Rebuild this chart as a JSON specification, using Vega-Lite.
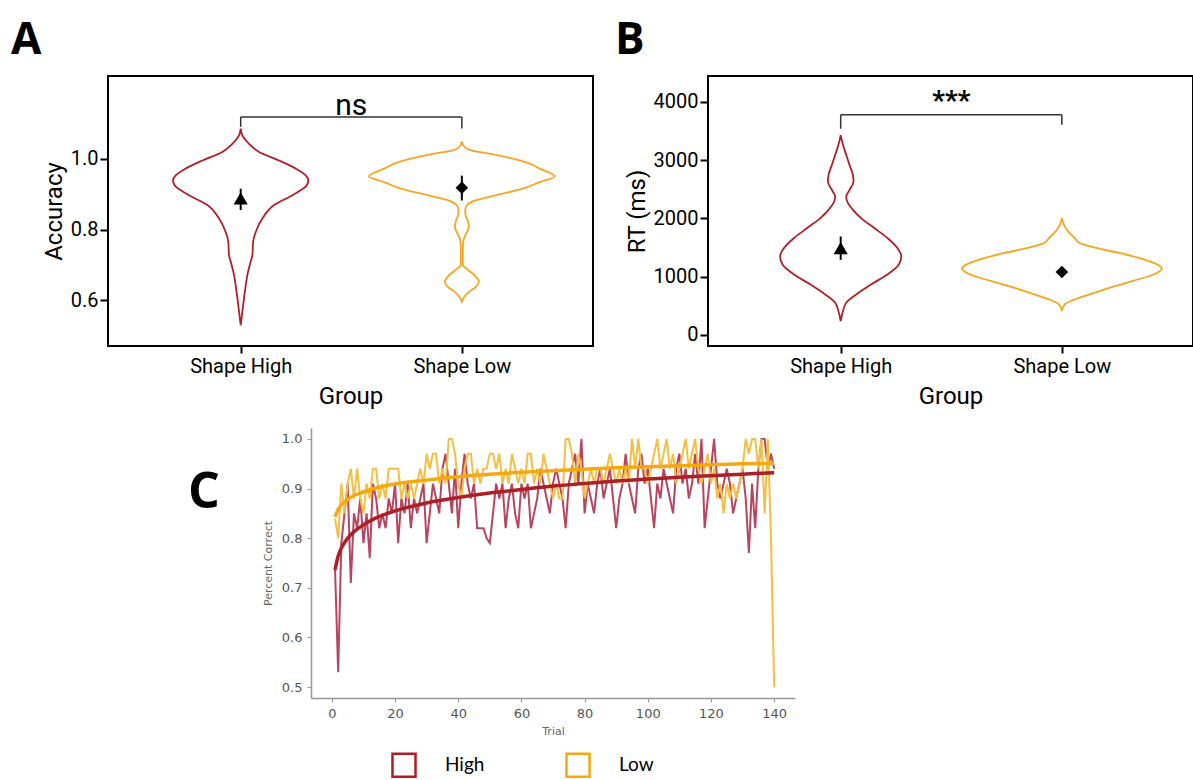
{
  "$schema": "https://vega.github.io/schema/vega-lite/v6.json",
  "padding": {"left": 10, "top": 18, "right": 0, "bottom": 0},
  "config": {
    "view": {"stroke": null},
    "axis": {"grid": false},
    "title": {"font": "Open Sans", "fontSize": 44, "fontWeight": "bold", "color": "black", "anchor": "start", "frame": "group"}
  },
  "resolve": {"scale": {"stroke": "independent", "shape": "independent", "size": "independent"}, "legend": {"stroke": "independent"}},
  "datasets": {
    "violinA": [
      {"g": "High", "v": 1.085, "lo": 1.0, "hi": 1.0},
      {"g": "High", "v": 1.066, "lo": 0.9925, "hi": 1.0075},
      {"g": "High", "v": 1.042, "lo": 0.962, "hi": 1.038},
      {"g": "High", "v": 1.019, "lo": 0.917, "hi": 1.083},
      {"g": "High", "v": 0.995, "lo": 0.827, "hi": 1.173},
      {"g": "High", "v": 0.972, "lo": 0.751, "hi": 1.249},
      {"g": "High", "v": 0.953, "lo": 0.706, "hi": 1.294},
      {"g": "High", "v": 0.939, "lo": 0.694, "hi": 1.306},
      {"g": "High", "v": 0.925, "lo": 0.701, "hi": 1.299},
      {"g": "High", "v": 0.897, "lo": 0.766, "hi": 1.234},
      {"g": "High", "v": 0.869, "lo": 0.849, "hi": 1.151},
      {"g": "High", "v": 0.831, "lo": 0.902, "hi": 1.098},
      {"g": "High", "v": 0.793, "lo": 0.932, "hi": 1.068},
      {"g": "High", "v": 0.765, "lo": 0.944, "hi": 1.056},
      {"g": "High", "v": 0.728, "lo": 0.947, "hi": 1.053},
      {"g": "High", "v": 0.709, "lo": 0.955, "hi": 1.045},
      {"g": "High", "v": 0.671, "lo": 0.97, "hi": 1.03},
      {"g": "High", "v": 0.643, "lo": 0.977, "hi": 1.023},
      {"g": "High", "v": 0.606, "lo": 0.985, "hi": 1.015},
      {"g": "High", "v": 0.568, "lo": 0.9925, "hi": 1.0075},
      {"g": "High", "v": 0.53, "lo": 1.0, "hi": 1.0},
      {"g": "Low", "v": 1.049, "lo": 2.0, "hi": 2.0},
      {"g": "Low", "v": 1.033, "lo": 1.988, "hi": 2.012},
      {"g": "Low", "v": 1.0235, "lo": 1.958, "hi": 2.042},
      {"g": "Low", "v": 1.014, "lo": 1.875, "hi": 2.125},
      {"g": "Low", "v": 1.0, "lo": 1.769, "hi": 2.231},
      {"g": "Low", "v": 0.986, "lo": 1.694, "hi": 2.306},
      {"g": "Low", "v": 0.972, "lo": 1.649, "hi": 2.351},
      {"g": "Low", "v": 0.95, "lo": 1.58, "hi": 2.42},
      {"g": "Low", "v": 0.934, "lo": 1.649, "hi": 2.351},
      {"g": "Low", "v": 0.9155, "lo": 1.724, "hi": 2.276},
      {"g": "Low", "v": 0.897, "lo": 1.845, "hi": 2.155},
      {"g": "Low", "v": 0.883, "lo": 1.935, "hi": 2.065},
      {"g": "Low", "v": 0.8685, "lo": 1.977, "hi": 2.023},
      {"g": "Low", "v": 0.8545, "lo": 1.985, "hi": 2.015},
      {"g": "Low", "v": 0.84, "lo": 1.983, "hi": 2.017},
      {"g": "Low", "v": 0.826, "lo": 1.974, "hi": 2.026},
      {"g": "Low", "v": 0.8075, "lo": 1.968, "hi": 2.032},
      {"g": "Low", "v": 0.789, "lo": 1.98, "hi": 2.02},
      {"g": "Low", "v": 0.77, "lo": 1.9925, "hi": 2.0075},
      {"g": "Low", "v": 0.7465, "lo": 1.9955, "hi": 2.0045},
      {"g": "Low", "v": 0.6995, "lo": 1.9955, "hi": 2.0045},
      {"g": "Low", "v": 0.69, "lo": 1.98, "hi": 2.02},
      {"g": "Low", "v": 0.671, "lo": 1.943, "hi": 2.057},
      {"g": "Low", "v": 0.653, "lo": 1.923, "hi": 2.077},
      {"g": "Low", "v": 0.6385, "lo": 1.935, "hi": 2.065},
      {"g": "Low", "v": 0.624, "lo": 1.968, "hi": 2.032},
      {"g": "Low", "v": 0.61, "lo": 1.989, "hi": 2.011},
      {"g": "Low", "v": 0.596, "lo": 2.0, "hi": 2.0}
    ],
    "violinB": [
      {"g": "High", "v": 3430, "lo": 1.0, "hi": 1.0},
      {"g": "High", "v": 3259, "lo": 0.9896, "hi": 1.0104},
      {"g": "High", "v": 3088, "lo": 0.9747, "hi": 1.0253},
      {"g": "High", "v": 2917, "lo": 0.96, "hi": 1.04},
      {"g": "High", "v": 2746, "lo": 0.945, "hi": 1.055},
      {"g": "High", "v": 2632, "lo": 0.942, "hi": 1.058},
      {"g": "High", "v": 2490, "lo": 0.96, "hi": 1.04},
      {"g": "High", "v": 2376, "lo": 0.975, "hi": 1.025},
      {"g": "High", "v": 2262, "lo": 0.967, "hi": 1.033},
      {"g": "High", "v": 2148, "lo": 0.945, "hi": 1.055},
      {"g": "High", "v": 2006, "lo": 0.908, "hi": 1.092},
      {"g": "High", "v": 1835, "lo": 0.848, "hi": 1.152},
      {"g": "High", "v": 1664, "lo": 0.789, "hi": 1.211},
      {"g": "High", "v": 1493, "lo": 0.744, "hi": 1.256},
      {"g": "High", "v": 1350, "lo": 0.726, "hi": 1.274},
      {"g": "High", "v": 1208, "lo": 0.737, "hi": 1.263},
      {"g": "High", "v": 1037, "lo": 0.789, "hi": 1.211},
      {"g": "High", "v": 866, "lo": 0.863, "hi": 1.137},
      {"g": "High", "v": 695, "lo": 0.93, "hi": 1.07},
      {"g": "High", "v": 553, "lo": 0.975, "hi": 1.025},
      {"g": "High", "v": 410, "lo": 0.9896, "hi": 1.0104},
      {"g": "High", "v": 239, "lo": 1.0, "hi": 1.0},
      {"g": "Low", "v": 2006, "lo": 2.0, "hi": 2.0},
      {"g": "Low", "v": 1892, "lo": 1.9911, "hi": 2.0089},
      {"g": "Low", "v": 1778, "lo": 1.972, "hi": 2.028},
      {"g": "Low", "v": 1664, "lo": 1.942, "hi": 2.058},
      {"g": "Low", "v": 1578, "lo": 1.92, "hi": 2.08},
      {"g": "Low", "v": 1493, "lo": 1.845, "hi": 2.155},
      {"g": "Low", "v": 1407, "lo": 1.741, "hi": 2.259},
      {"g": "Low", "v": 1322, "lo": 1.652, "hi": 2.348},
      {"g": "Low", "v": 1236, "lo": 1.585, "hi": 2.415},
      {"g": "Low", "v": 1140, "lo": 1.548, "hi": 2.452},
      {"g": "Low", "v": 1037, "lo": 1.585, "hi": 2.415},
      {"g": "Low", "v": 923, "lo": 1.682, "hi": 2.318},
      {"g": "Low", "v": 809, "lo": 1.786, "hi": 2.214},
      {"g": "Low", "v": 695, "lo": 1.875, "hi": 2.125},
      {"g": "Low", "v": 610, "lo": 1.942, "hi": 2.058},
      {"g": "Low", "v": 524, "lo": 1.9866, "hi": 2.0134},
      {"g": "Low", "v": 410, "lo": 2.0, "hi": 2.0}
    ],
    "meansA": [
      {"x": 1, "g": "High", "m": 0.888, "lo": 0.855, "hi": 0.915},
      {"x": 2, "g": "Low", "m": 0.918, "lo": 0.882, "hi": 0.952}
    ],
    "meansB": [
      {"x": 1, "g": "High", "m": 1490, "lo": 1290, "hi": 1690},
      {"x": 2, "g": "Low", "m": 1080, "lo": 1040, "hi": 1120}
    ],
    "bracketA": [
      {"x": 1, "x2": 2, "y": 1.118, "y2": 1.118},
      {"x": 1, "x2": 1, "y": 1.118, "y2": 1.09},
      {"x": 2, "x2": 2, "y": 1.118, "y2": 1.085}
    ],
    "bracketB": [
      {"x": 1, "x2": 2, "y": 3778, "y2": 3778},
      {"x": 1, "x2": 1, "y": 3778, "y2": 3540},
      {"x": 2, "x2": 2, "y": 3778, "y2": 3610}
    ],
    "trials": [
      {"t":1,"h":0.74,"l":0.84},{"t":2,"h":0.53,"l":0.80},{"t":3,"h":0.79,"l":0.91},{"t":4,"h":0.85,"l":0.85},{"t":5,"h":0.91,"l":0.91},
      {"t":6,"h":0.71,"l":0.94},{"t":7,"h":0.85,"l":0.88},{"t":8,"h":0.82,"l":0.94},{"t":9,"h":0.88,"l":0.88},{"t":10,"h":0.79,"l":0.85},
      {"t":11,"h":0.85,"l":0.91},{"t":12,"h":0.76,"l":0.88},{"t":13,"h":0.91,"l":0.94},{"t":14,"h":0.88,"l":0.94},{"t":15,"h":0.82,"l":0.88},
      {"t":16,"h":0.85,"l":0.91},{"t":17,"h":0.82,"l":0.88},{"t":18,"h":0.88,"l":0.94},{"t":19,"h":0.85,"l":0.94},{"t":20,"h":0.91,"l":0.94},
      {"t":21,"h":0.79,"l":0.94},{"t":22,"h":0.88,"l":0.88},{"t":23,"h":0.85,"l":0.91},{"t":24,"h":0.91,"l":0.88},{"t":25,"h":0.82,"l":0.91},
      {"t":26,"h":0.88,"l":0.88},{"t":27,"h":0.85,"l":0.91},{"t":28,"h":0.88,"l":0.94},{"t":29,"h":0.91,"l":0.91},{"t":30,"h":0.79,"l":0.97},
      {"t":31,"h":0.85,"l":0.94},{"t":32,"h":0.91,"l":0.97},{"t":33,"h":0.88,"l":0.97},{"t":34,"h":0.85,"l":0.91},{"t":35,"h":0.94,"l":0.94},
      {"t":36,"h":0.97,"l":0.91},{"t":37,"h":0.91,"l":1.0},{"t":38,"h":0.85,"l":1.0},{"t":39,"h":0.94,"l":0.97},{"t":40,"h":0.82,"l":0.91},
      {"t":41,"h":0.91,"l":0.88},{"t":42,"h":0.97,"l":0.94},{"t":43,"h":0.91,"l":0.97},{"t":44,"h":0.88,"l":0.97},{"t":45,"h":0.91,"l":0.91},
      {"t":46,"h":0.82,"l":0.94},{"t":47,"h":0.82,"l":0.91},{"t":48,"h":0.82,"l":0.94},{"t":49,"h":0.80,"l":0.94},{"t":50,"h":0.79,"l":0.97},
      {"t":51,"h":0.85,"l":0.97},{"t":52,"h":0.91,"l":0.94},{"t":53,"h":0.88,"l":0.97},{"t":54,"h":0.91,"l":0.91},{"t":55,"h":0.82,"l":0.94},
      {"t":56,"h":0.88,"l":0.91},{"t":57,"h":0.91,"l":0.97},{"t":58,"h":0.85,"l":0.94},{"t":59,"h":0.82,"l":0.91},{"t":60,"h":0.91,"l":0.94},
      {"t":61,"h":0.88,"l":0.91},{"t":62,"h":0.91,"l":0.97},{"t":63,"h":0.82,"l":0.97},{"t":64,"h":0.85,"l":0.91},{"t":65,"h":0.88,"l":0.94},
      {"t":66,"h":0.94,"l":0.91},{"t":67,"h":0.91,"l":0.97},{"t":68,"h":0.88,"l":0.94},{"t":69,"h":0.85,"l":0.91},{"t":70,"h":0.91,"l":0.88},
      {"t":71,"h":0.94,"l":0.91},{"t":72,"h":0.91,"l":0.88},{"t":73,"h":0.88,"l":0.88},{"t":74,"h":0.82,"l":1.0},{"t":75,"h":0.91,"l":1.0},
      {"t":76,"h":0.94,"l":0.97},{"t":77,"h":0.97,"l":0.91},{"t":78,"h":0.91,"l":0.97},{"t":79,"h":1.0,"l":0.94},{"t":80,"h":0.85,"l":0.88},
      {"t":81,"h":0.91,"l":0.91},{"t":82,"h":0.88,"l":0.94},{"t":83,"h":0.85,"l":0.91},{"t":84,"h":0.91,"l":0.94},{"t":85,"h":0.94,"l":0.94},
      {"t":86,"h":0.88,"l":0.91},{"t":87,"h":0.91,"l":0.94},{"t":88,"h":0.94,"l":0.97},{"t":89,"h":0.88,"l":0.94},{"t":90,"h":0.82,"l":0.91},
      {"t":91,"h":0.88,"l":0.94},{"t":92,"h":0.91,"l":0.91},{"t":93,"h":0.97,"l":0.94},{"t":94,"h":0.91,"l":0.91},{"t":95,"h":0.88,"l":1.0},
      {"t":96,"h":0.85,"l":0.94},{"t":97,"h":0.94,"l":1.0},{"t":98,"h":0.97,"l":0.94},{"t":99,"h":0.91,"l":0.94},{"t":100,"h":0.94,"l":0.91},
      {"t":101,"h":0.88,"l":0.94},{"t":102,"h":0.82,"l":0.97},{"t":103,"h":0.91,"l":1.0},{"t":104,"h":0.88,"l":0.94},{"t":105,"h":0.94,"l":0.97},
      {"t":106,"h":0.91,"l":1.0},{"t":107,"h":0.88,"l":0.94},{"t":108,"h":0.85,"l":0.97},{"t":109,"h":0.94,"l":0.91},{"t":110,"h":0.97,"l":0.94},
      {"t":111,"h":0.91,"l":0.97},{"t":112,"h":0.94,"l":1.0},{"t":113,"h":0.88,"l":0.94},{"t":114,"h":0.91,"l":0.97},{"t":115,"h":0.97,"l":1.0},
      {"t":116,"h":0.91,"l":0.94},{"t":117,"h":1.0,"l":0.91},{"t":118,"h":0.82,"l":0.94},{"t":119,"h":0.88,"l":0.97},{"t":120,"h":0.94,"l":0.91},
      {"t":121,"h":1.0,"l":0.94},{"t":122,"h":0.91,"l":0.88},{"t":123,"h":0.88,"l":0.91},{"t":124,"h":0.91,"l":0.85},{"t":125,"h":0.94,"l":0.91},
      {"t":126,"h":0.91,"l":0.88},{"t":127,"h":0.85,"l":0.91},{"t":128,"h":0.88,"l":0.88},{"t":129,"h":0.91,"l":0.91},{"t":130,"h":0.94,"l":0.94},
      {"t":131,"h":0.88,"l":1.0},{"t":132,"h":0.77,"l":0.97},{"t":133,"h":0.91,"l":1.0},{"t":134,"h":0.82,"l":1.0},{"t":135,"h":0.94,"l":0.94},
      {"t":136,"h":1.0,"l":1.0},{"t":137,"h":1.0,"l":0.85},{"t":138,"h":0.94,"l":1.0},{"t":139,"h":0.97,"l":0.80},{"t":140,"h":0.94,"l":0.50}
    ],
    "fits": [
      {"t":1,"g":"High","v":0.736},{"t":2,"g":"High","v":0.764},{"t":3,"g":"High","v":0.78},{"t":4,"g":"High","v":0.791},{"t":5,"g":"High","v":0.8},
      {"t":7,"g":"High","v":0.813},{"t":10,"g":"High","v":0.827},{"t":14,"g":"High","v":0.841},{"t":20,"g":"High","v":0.855},{"t":30,"g":"High","v":0.871},
      {"t":40,"g":"High","v":0.882},{"t":50,"g":"High","v":0.891},{"t":60,"g":"High","v":0.898},{"t":70,"g":"High","v":0.905},{"t":80,"g":"High","v":0.91},
      {"t":90,"g":"High","v":0.915},{"t":100,"g":"High","v":0.919},{"t":110,"g":"High","v":0.923},{"t":120,"g":"High","v":0.926},{"t":130,"g":"High","v":0.929},
      {"t":140,"g":"High","v":0.932},
      {"t":1,"g":"Low","v":0.843},{"t":2,"g":"Low","v":0.858},{"t":3,"g":"Low","v":0.867},{"t":4,"g":"Low","v":0.873},{"t":5,"g":"Low","v":0.878},
      {"t":7,"g":"Low","v":0.886},{"t":10,"g":"Low","v":0.893},{"t":14,"g":"Low","v":0.901},{"t":20,"g":"Low","v":0.909},{"t":30,"g":"Low","v":0.917},
      {"t":40,"g":"Low","v":0.924},{"t":50,"g":"Low","v":0.929},{"t":60,"g":"Low","v":0.933},{"t":70,"g":"Low","v":0.936},{"t":80,"g":"Low","v":0.939},
      {"t":90,"g":"Low","v":0.942},{"t":100,"g":"Low","v":0.944},{"t":110,"g":"Low","v":0.946},{"t":120,"g":"Low","v":0.948},{"t":130,"g":"Low","v":0.95},
      {"t":140,"g":"Low","v":0.951}
    ]
  },
  "vconcat": [
    {
      "spacing": 20,
      "resolve": {"scale": {"stroke": "independent", "shape": "independent", "size": "independent"}, "legend": {"stroke": "independent"}},
      "hconcat": [
        {
          "width": 485,
          "height": 270,
          "view": {"stroke": "black", "strokeWidth": 2},
          "title": {"text": "A", "dx": -97, "offset": 13},
          "layer": [
            {
              "data": {"name": "violinA"},
              "mark": {"type": "area", "orient": "horizontal", "interpolate": "monotone", "fillOpacity": 0, "strokeWidth": 1.8},
              "encoding": {
                "y": {"field": "v", "type": "quantitative", "title": "Accuracy",
                  "scale": {"domain": [0.471, 1.2335], "nice": false, "zero": false},
                  "axis": {"values": [0.6, 0.8, 1.0], "format": ".1f", "domain": false, "tickSize": 8, "tickWidth": 2, "tickColor": "black",
                    "labelFont": "Roboto", "labelFontSize": 20, "labelColor": "black", "labelPadding": 2,
                    "titleFont": "Roboto", "titleFontSize": 24, "titleFontWeight": "normal", "titleColor": "black", "titlePadding": 4}},
                "x": {"field": "lo", "type": "quantitative", "title": "Group",
                  "scale": {"domain": [0.4, 2.593], "nice": false, "zero": false},
                  "axis": {"values": [1, 2], "labelExpr": "datum.value == 1 ? 'Shape High' : 'Shape Low'", "domain": false, "tickSize": 7, "tickWidth": 2, "tickColor": "black",
                    "labelFont": "Roboto", "labelFontSize": 20, "labelColor": "black", "labelPadding": 3,
                    "titleFont": "Roboto", "titleFontSize": 24, "titleFontWeight": "normal", "titleColor": "black", "titlePadding": 8}},
                "x2": {"field": "hi"},
                "stroke": {"field": "g", "type": "nominal", "scale": {"domain": ["High", "Low"], "range": ["#b11f27", "#f5a623"]}, "legend": null}
              }
            },
            {
              "data": {"name": "bracketA"},
              "mark": {"type": "rule", "color": "#333333", "strokeWidth": 1.5},
              "encoding": {
                "x": {"field": "x", "type": "quantitative"},
                "x2": {"field": "x2"},
                "y": {"field": "y", "type": "quantitative"},
                "y2": {"field": "y2"}
              }
            },
            {
              "data": {"values": [{"x": 1.5, "y": 1.15, "label": "ns"}]},
              "mark": {"type": "text", "font": "Roboto", "fontSize": 30, "color": "black", "baseline": "middle"},
              "encoding": {
                "x": {"field": "x", "type": "quantitative"},
                "y": {"field": "y", "type": "quantitative"},
                "text": {"field": "label"}
              }
            },
            {
              "data": {"name": "meansA"},
              "mark": {"type": "rule", "color": "black", "strokeWidth": 2},
              "encoding": {
                "x": {"field": "x", "type": "quantitative"},
                "y": {"field": "lo", "type": "quantitative"},
                "y2": {"field": "hi"}
              }
            },
            {
              "data": {"name": "meansA"},
              "mark": {"type": "point", "filled": true, "color": "black", "opacity": 1},
              "encoding": {
                "x": {"field": "x", "type": "quantitative"},
                "y": {"field": "m", "type": "quantitative"},
                "shape": {"field": "g", "type": "nominal", "scale": {"domain": ["High", "Low"], "range": ["triangle-up", "diamond"]}, "legend": null},
                "size": {"field": "g", "type": "nominal", "scale": {"domain": ["High", "Low"], "range": [200, 160]}, "legend": null}
              }
            }
          ]
        },
        {
          "width": 485,
          "height": 270,
          "view": {"stroke": "black", "strokeWidth": 2},
          "title": {"text": "B", "dx": -93, "offset": 13},
          "layer": [
            {
              "data": {"name": "violinB"},
              "mark": {"type": "area", "orient": "horizontal", "interpolate": "monotone", "fillOpacity": 0, "strokeWidth": 1.8},
              "encoding": {
                "y": {"field": "v", "type": "quantitative", "title": "RT (ms)",
                  "scale": {"domain": [-190, 4445], "nice": false, "zero": false},
                  "axis": {"values": [0, 1000, 2000, 3000, 4000], "format": "d", "domain": false, "tickSize": 8, "tickWidth": 2, "tickColor": "black",
                    "labelFont": "Roboto", "labelFontSize": 20, "labelColor": "black", "labelPadding": 2,
                    "titleFont": "Roboto", "titleFontSize": 24, "titleFontWeight": "normal", "titleColor": "black", "titlePadding": 4}},
                "x": {"field": "lo", "type": "quantitative", "title": "Group",
                  "scale": {"domain": [0.4, 2.593], "nice": false, "zero": false},
                  "axis": {"values": [1, 2], "labelExpr": "datum.value == 1 ? 'Shape High' : 'Shape Low'", "domain": false, "tickSize": 7, "tickWidth": 2, "tickColor": "black",
                    "labelFont": "Roboto", "labelFontSize": 20, "labelColor": "black", "labelPadding": 3,
                    "titleFont": "Roboto", "titleFontSize": 24, "titleFontWeight": "normal", "titleColor": "black", "titlePadding": 8}},
                "x2": {"field": "hi"},
                "stroke": {"field": "g", "type": "nominal", "scale": {"domain": ["High", "Low"], "range": ["#b11f27", "#f5a623"]}, "legend": null}
              }
            },
            {
              "data": {"name": "bracketB"},
              "mark": {"type": "rule", "color": "#333333", "strokeWidth": 1.5},
              "encoding": {
                "x": {"field": "x", "type": "quantitative"},
                "x2": {"field": "x2"},
                "y": {"field": "y", "type": "quantitative"},
                "y2": {"field": "y2"}
              }
            },
            {
              "data": {"values": [{"x": 1.5, "y": 4000, "label": "***"}]},
              "mark": {"type": "text", "font": "Roboto", "fontSize": 28, "fontWeight": "bold", "color": "black", "baseline": "middle"},
              "encoding": {
                "x": {"field": "x", "type": "quantitative"},
                "y": {"field": "y", "type": "quantitative"},
                "text": {"field": "label"}
              }
            },
            {
              "data": {"name": "meansB"},
              "mark": {"type": "rule", "color": "black", "strokeWidth": 2},
              "encoding": {
                "x": {"field": "x", "type": "quantitative"},
                "y": {"field": "lo", "type": "quantitative"},
                "y2": {"field": "hi"}
              }
            },
            {
              "data": {"name": "meansB"},
              "mark": {"type": "point", "filled": true, "color": "black", "opacity": 1},
              "encoding": {
                "x": {"field": "x", "type": "quantitative"},
                "y": {"field": "m", "type": "quantitative"},
                "shape": {"field": "g", "type": "nominal", "scale": {"domain": ["High", "Low"], "range": ["triangle-up", "diamond"]}, "legend": null},
                "size": {"field": "g", "type": "nominal", "scale": {"domain": ["High", "Low"], "range": [200, 160]}, "legend": null}
              }
            }
          ]
        }
      ]
    },
    {
      "spacing": 20,
      "resolve": {"scale": {"stroke": "independent"}, "legend": {"stroke": "independent"}},
      "hconcat": [
        {
          "width": 60,
          "height": 10,
          "data": {"values": [{}]},
          "mark": {"type": "text", "text": ""},
          "encoding": {}
        },
        {
          "width": 484,
          "height": 270,
          "title": {"text": "C", "dx": -123, "dy": 100, "offset": 10, "fontSize": 50},
          "layer": [
            {
              "data": {"name": "trials"},
              "mark": {"type": "line", "color": "#b8455f", "strokeWidth": 2},
              "encoding": {
                "x": {"field": "t", "type": "quantitative", "title": "Trial",
                  "scale": {"domain": [-6.6, 146.6], "nice": false, "zero": false},
                  "axis": {"values": [0, 20, 40, 60, 80, 100, 120, 140], "domainColor": "#999999", "domainWidth": 1.5, "tickColor": "#999999", "tickSize": 4,
                    "labelFont": "DejaVu Sans", "labelFontSize": 13, "labelColor": "#555555", "labelPadding": 5,
                    "titleFont": "DejaVu Sans", "titleFontSize": 11, "titleFontWeight": "normal", "titleColor": "#666666", "titlePadding": 5}},
                "y": {"field": "h", "type": "quantitative", "title": "Percent Correct",
                  "scale": {"domain": [0.478, 1.022], "nice": false, "zero": false},
                  "axis": {"values": [0.5, 0.6, 0.7, 0.8, 0.9, 1.0], "format": ".1f", "domainColor": "#999999", "domainWidth": 1.5, "tickColor": "#999999", "tickSize": 4,
                    "labelFont": "DejaVu Sans", "labelFontSize": 13, "labelColor": "#555555", "labelPadding": 5,
                    "titleFont": "DejaVu Sans", "titleFontSize": 11, "titleFontWeight": "normal", "titleColor": "#666666", "titlePadding": 8}}
              }
            },
            {
              "data": {"name": "trials"},
              "mark": {"type": "line", "color": "#f3bf45", "strokeWidth": 2},
              "encoding": {
                "x": {"field": "t", "type": "quantitative"},
                "y": {"field": "l", "type": "quantitative"}
              }
            },
            {
              "data": {"name": "fits"},
              "mark": {"type": "line", "strokeWidth": 3.5, "interpolate": "monotone"},
              "encoding": {
                "x": {"field": "t", "type": "quantitative"},
                "y": {"field": "v", "type": "quantitative"},
                "stroke": {"field": "g", "type": "nominal",
                  "scale": {"domain": ["High", "Low"], "range": ["#ad1e26", "#f5a90f"]},
                  "legend": {"orient": "none", "legendX": 80, "legendY": 324, "direction": "horizontal", "title": null,
                    "symbolType": "square", "symbolSize": 530, "symbolStrokeWidth": 2.5, "symbolFillColor": "white",
                    "labelFont": "Lato", "labelFontSize": 19, "labelColor": "black", "labelOffset": 28, "columnPadding": 76, "padding": 0}}
              }
            }
          ]
        }
      ]
    }
  ],
  "spacing": 18
}
